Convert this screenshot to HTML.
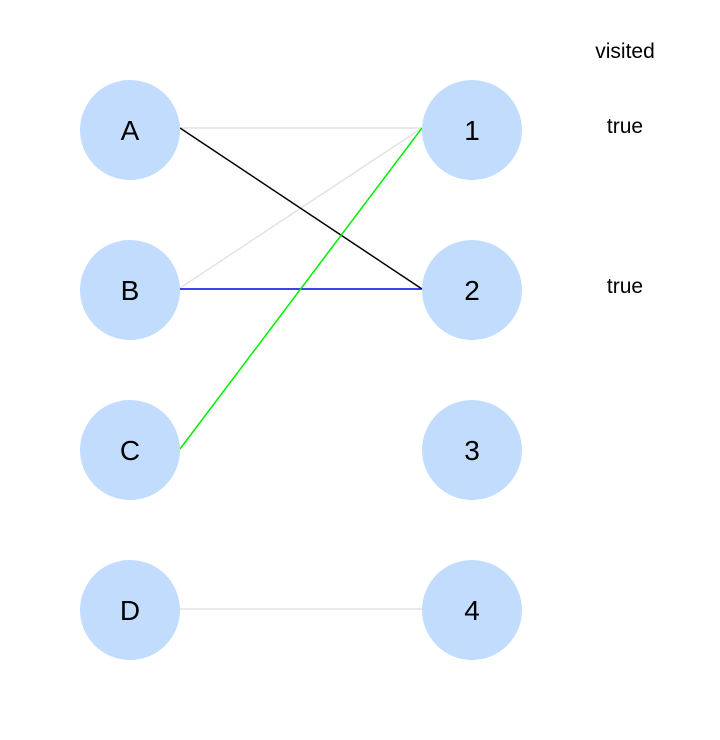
<!DOCTYPE html>
<html><head><meta charset="utf-8"><style>
html,body{margin:0;padding:0;background:#fff;}
svg{display:block;}
text{font-family:"Liberation Sans",sans-serif;}
</style></head><body>
<svg width="720" height="740" viewBox="0 0 720 740" xmlns="http://www.w3.org/2000/svg">
<rect width="720" height="740" fill="#fff"/>
<g stroke-width="1.5" fill="none">
<line x1="180" y1="128" x2="422" y2="128" stroke="#e3e3e3"/>
<line x1="180" y1="288" x2="422" y2="128" stroke="#e3e3e3"/>
<line x1="180" y1="609" x2="422" y2="609" stroke="#e3e3e3"/>
<line x1="180" y1="128" x2="422" y2="289" stroke="#000"/>
<line x1="180" y1="289" x2="422" y2="289" stroke="#0000dd"/>
<line x1="180" y1="449" x2="422" y2="128" stroke="#00ee00"/>
</g>
<g fill="#c2dcfd">
<circle cx="130" cy="130" r="50"/><circle cx="130" cy="290" r="50"/>
<circle cx="130" cy="450" r="50"/><circle cx="130" cy="610" r="50"/>
<circle cx="472" cy="130" r="50"/><circle cx="472" cy="290" r="50"/>
<circle cx="472" cy="450" r="50"/><circle cx="472" cy="610" r="50"/>
</g>
<g font-size="28" text-anchor="middle" fill="#000">
<text x="130" y="140">A</text><text x="130" y="300">B</text>
<text x="130" y="460">C</text><text x="130" y="620">D</text>
<text x="472" y="140">1</text><text x="472" y="300">2</text>
<text x="472" y="460">3</text><text x="472" y="620">4</text>
</g>
<g font-size="21" text-anchor="middle" fill="#000">
<text x="625" y="58">visited</text>
<text x="625" y="133">true</text>
<text x="625" y="293">true</text>
</g>
</svg>
</body></html>
